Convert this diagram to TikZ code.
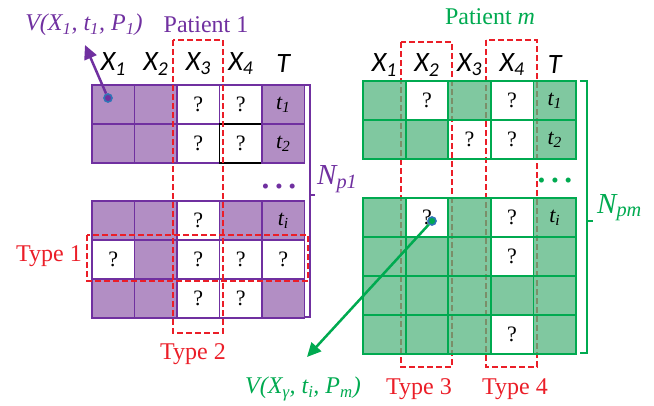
\documentclass[tikz,border=0pt]{standalone}
\usepackage{fontspec}
\setmainfont{Liberation Serif}
\newfontfamily\hdfont{Carlito}
\usetikzlibrary{arrows.meta}

\definecolor{pline}{RGB}{112,48,160}
\definecolor{pfill}{RGB}{178,142,196}
\definecolor{gline}{RGB}{0,170,80}
\definecolor{gfill}{RGB}{85,181,128}
\definecolor{typered}{RGB}{235,30,40}
\definecolor{dotblue}{RGB}{46,117,182}

\tikzstyle{pc} = [rectangle, draw=pline, fill=pfill, minimum width=42.5pt, minimum height=39pt, inner sep=0pt, line width=1.8pt, font=\fontsize{22}{24}\selectfont]
\tikzstyle{pw} = [pc, fill=white]
\tikzstyle{pk} = [pw, draw=black]
\tikzstyle{gc} = [rectangle, draw=gline, fill=gfill, fill opacity=0.75, text opacity=1, minimum width=42.6pt, minimum height=39pt, inner sep=0pt, line width=1.8pt, font=\fontsize{22}{24}\selectfont]
\tikzstyle{gw} = [gc, fill=none]
\tikzstyle{head} = [font=\hdfont\itshape\fontsize{28}{30}\selectfont]
\tikzstyle{lbl} = [font=\fontsize{24}{26}\selectfont, inner sep=0pt]
\tikzstyle{nlbl} = [font=\fontsize{29}{30}\selectfont, inner sep=0pt, anchor=base west]
\tikzstyle{dots} = [font=\fontsize{21}{21}\selectfont]
\tikzstyle{typebox} = [draw=typered, dash pattern=on 6pt off 3pt, line width=2.4pt]
\tikzstyle{vdot} = [circle, draw=dotblue, line width=1.6pt, minimum size=8pt, inner sep=0pt]
\tikzstyle{arrow} = [line width=2.5pt, -{Triangle[length=14pt,width=13pt]}]

\begin{document}
\begin{tikzpicture}[x=1pt, y=-1pt]
		\useasboundingbox (0,0) rectangle (654,405);
		% Patient 1
		\foreach \c in {1,...,4}
			\node (ha\c) [head] at (70.75+42.5*\c, 64) {X\textsubscript{\c}};
		\node (ha5) [head] at (283.25, 64) {T};
		\foreach \s/\t [count=\c] in {pc/,pc/,pw/?,pw/?,pc/\textit{t\textsubscript{1}}}
			\node (a1-\c) [\s] at (70.75+42.5*\c, 104.5) {\t};
		\foreach \s/\t [count=\c] in {pc/,pc/,pw/?,pk/?,pc/\textit{t\textsubscript{2}}}
			\node (a2-\c) [\s] at (70.75+42.5*\c, 143.5) {\t};
		\foreach \s/\t [count=\c] in {pc/,pc/,pw/?,pc/,pc/\textit{t\textsubscript{i}}}
			\node (a3-\c) [\s] at (70.75+42.5*\c, 220.5) {\t};
		\foreach \s/\t [count=\c] in {pw/?,pc/,pw/?,pw/?,pw/?}
			\node (a4-\c) [\s] at (70.75+42.5*\c, 259.5) {\t};
		\foreach \s/\t [count=\c] in {pc/,pc/,pw/?,pw/?,pc/}
			\node (a5-\c) [\s] at (70.75+42.5*\c, 298.5) {\t};
		\node (dotsL) [dots, text=pline] at (279,189) {\textbullet\hspace{6pt}\textbullet\hspace{6pt}\textbullet};
		\draw[pline, line width=1.8pt] (305,85) -- (310,85) -- (310,317) -- (305,317);
		\draw[pline, line width=1.8pt] (310,195) -- (315,195);
		\node (nL) [nlbl, text=pline] at (317,184) {\textit{N\textsubscript{p1}}};
		\node (patA) [lbl, text=pline] at (206,25) {Patient 1};
		\node (vA) [lbl, text=pline] at (84,25) {\textit{V(X\textsubscript{1}, t\textsubscript{1}, P\textsubscript{1})}};
		\node (dotA) [vdot, fill=pline] at (108,98) {};
		\coordinate (tipA) at (85,45);
		% Type 1 and 2
		\draw[typebox] (87,235) rectangle (308,281);
		\draw[typebox] (173,40) rectangle (223,333);
		\node (type1) [lbl, text=typered] at (49,256) {Type 1};
		\node (type2) [lbl, text=typered] at (193,354) {Type 2};
		% Type 3 and 4 (under the green cells)
		\draw[typebox] (401,42) rectangle (452,367);
		\draw[typebox] (486,40) rectangle (537,367);
		\node (type3) [lbl, text=typered] at (419,389) {Type 3};
		\node (type4) [lbl, text=typered] at (515,389) {Type 4};
		% Patient m
		\foreach \c in {1,...,4}
			\node (hb\c) [head] at (341.7+42.6*\c, 65) {X\textsubscript{\c}};
		\node (hb5) [head] at (554.7, 65) {T};
		\foreach \s/\t [count=\c] in {gc/,gw/?,gc/,gw/?,gc/\textit{t\textsubscript{1}}}
			\node (b1-\c) [\s] at (341.7+42.6*\c, 100.5) {\t};
		\foreach \s/\t [count=\c] in {gc/,gc/,gw/?,gw/?,gc/\textit{t\textsubscript{2}}}
			\node (b2-\c) [\s] at (341.7+42.6*\c, 139.5) {\t};
		\foreach \s/\t [count=\c] in {gc/,gw/?,gc/,gw/?,gc/\textit{t\textsubscript{i}}}
			\node (b3-\c) [\s] at (341.7+42.6*\c, 217.5) {\t};
		\foreach \s/\t [count=\c] in {gc/,gc/,gc/,gw/?,gc/}
			\node (b4-\c) [\s] at (341.7+42.6*\c, 256.5) {\t};
		\foreach \s/\t [count=\c] in {gc/,gc/,gc/,gc/,gc/}
			\node (b5-\c) [\s] at (341.7+42.6*\c, 295.5) {\t};
		\foreach \s/\t [count=\c] in {gc/,gc/,gc/,gw/?,gc/}
			\node (b6-\c) [\s] at (341.7+42.6*\c, 334.5) {\t};
		\node (dotsR) [dots, text=gline] at (555,183) {\textbullet\hspace{6pt}\textbullet\hspace{6pt}\textbullet};
		\draw[gline, line width=1.8pt] (580,81) -- (587,81) -- (587,353) -- (580,353);
		\draw[gline, line width=1.8pt] (587,221) -- (593,221);
		\node (nR) [nlbl, text=gline] at (597,213) {\textit{N\textsubscript{pm}}};
		\node (patB) [lbl, text=gline] at (490,17) {Patient \textit{m}};
		\node (vB) [lbl, text=gline] at (303,389) {\textit{V(X\textsubscript{γ}, t\textsubscript{i}, P\textsubscript{m})}};
		\node (dotB) [vdot, fill=gline] at (432,221) {};
		\coordinate (tipB) at (307,357);
		% Arrows
		\draw [arrow, pline] (dotA) -- (tipA);
		\draw [arrow, gline] (dotB) -- (tipB);
	\end{tikzpicture}
\end{document}
